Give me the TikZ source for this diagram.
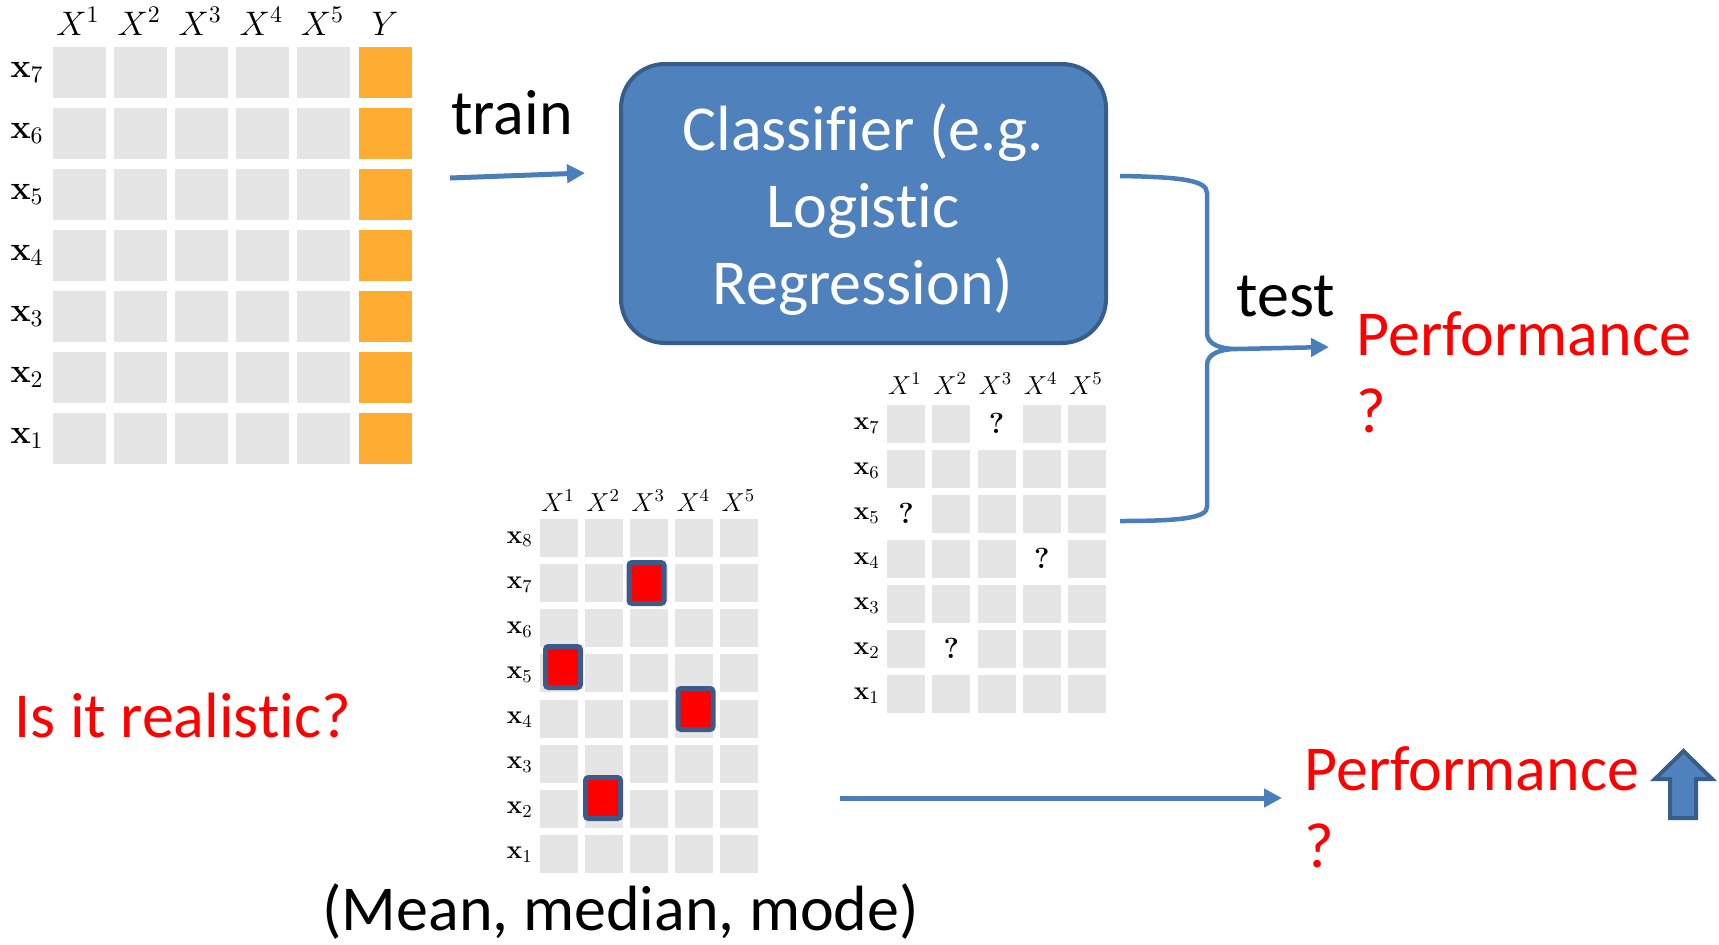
\RequirePackage{fix-cm}
\documentclass[tikz,border=0pt]{standalone}
\usepackage[no-math]{fontspec}
\setmainfont{Carlito}[Ligatures={NoCommon,NoContextual,NoRequired}, Contextuals=NoAlternate]
\usetikzlibrary{arrows.meta}
\definecolor{cellgray}{HTML}{E5E5E5}
\definecolor{ygold}{HTML}{FFAC33}
\definecolor{boxfill}{HTML}{4F81BD}
\definecolor{boxline}{HTML}{385D8A}
\definecolor{arrowblue}{HTML}{4A7EBB}
\definecolor{redbord}{HTML}{3C5A8A}
\newcommand\slidefont{\fontsize{32}{38.5}\selectfont}
\newcommand\bfq{{\usefont{OT1}{cmr}{bx}{n}?}}
\tikzset{
  cellA/.style={fill=cellgray, minimum width=26.5pt, minimum height=25.5pt, inner sep=0, draw=none},
  cellY/.style={cellA, fill=ygold},
  cellB/.style={fill=cellgray, minimum width=19pt, minimum height=19pt, inner sep=0, draw=none},
  redbox/.style={fill=red, draw=redbord, line width=2.5pt, rounded corners=1.5pt, minimum width=17.5pt, minimum height=20.5pt, inner sep=0},
  lblA/.style={inner sep=0, font=\fontsize{17}{20}\selectfont},
  lblB/.style={inner sep=0, font=\fontsize{13}{16}\selectfont},
  conn/.style={draw=arrowblue, line width=2.5pt, -{Triangle[length=9pt,width=9pt]}},
  bracepath/.style={draw=arrowblue, line width=2.25pt},
  slide/.style={inner sep=0, font=\slidefont},
  clfbox/.style={fill=boxfill, draw=boxline, line width=2pt, rounded corners=22pt, minimum width=242.5pt, minimum height=139.5pt, inner sep=0},
  uparrow/.style={fill=boxfill, draw=boxline, line width=2pt, line join=miter}
}
\begin{document}
\begin{tikzpicture}[x=0.5pt,y=-0.5pt]
\useasboundingbox (0,0) rectangle (1719,944);

% ---------- training table ----------
\foreach \r in {0,...,6}{
  \pgfmathtruncatemacro\sub{7-\r}
  \node[lblA, anchor=base east] (la-\r) at (44,{72.5+61.08*\r+4.5}) {$\mathbf{x}_{\sub}$};
  \foreach \c in {1,...,5}{
    \node[cellA] (a-\r-\c) at ({79.5+61.1*(\c-1)},{72.5+61.08*\r}) {};
  }
  \node[cellY] (a-\r-6) at (385,{72.5+61.08*\r}) {};
}
\foreach \c in {1,...,5}{
  \node[lblA, anchor=base] (ha-\c) at ({78+61.1*(\c-1)},35) {$X^{\c}$};
}
\node[lblA, anchor=base] (ha-6) at (385,35) {$Y$};

% ---------- imputed table ----------
\foreach \r in {0,...,7}{
  \pgfmathtruncatemacro\sub{8-\r}
  \node[lblB, anchor=base east] (lm-\r) at (533,{538+45.14*\r+5}) {$\mathbf{x}_{\sub}$};
  \foreach \c in {1,...,5}{
    \node[cellB] (m-\r-\c) at ({559+45.1*(\c-1)},{538+45.14*\r}) {};
  }
}
\foreach \c in {1,...,5}{
  \node[lblB, anchor=base] (hm-\c) at ({558+45.1*(\c-1)},511) {$X^{\c}$};
}
\node[redbox] (red1) at (646.5,583) {};
\node[redbox] (red2) at (563,667) {};
\node[redbox] (red3) at (695.5,709) {};
\node[redbox] (red4) at (603,798) {};

% ---------- test table with missing values ----------
\foreach \r in {0,...,6}{
  \pgfmathtruncatemacro\sub{7-\r}
  \node[lblB, anchor=base east] (lt-\r) at (880,{424+45.08*\r+5.5}) {$\mathbf{x}_{\sub}$};
  \foreach \c in {1,...,5}{
    \pgfmathtruncatemacro\miss{(\r==0 && \c==3) || (\r==2 && \c==1) || (\r==3 && \c==4) || (\r==5 && \c==2)}
    \ifnum\miss=0
      \node[cellB] (t-\r-\c) at ({906+45.25*(\c-1)},{424+45.08*\r}) {};
    \fi
  }
}
\foreach \c in {1,...,5}{
  \node[lblB, anchor=base] (ht-\c) at ({905+45.25*(\c-1)},394) {$X^{\c}$};
}
\foreach \r/\c in {0/3,2/1,3/4,5/2}{
  \node[lblB, anchor=base, font=\fontsize{14.5}{16}\selectfont] (q-\r-\c) at ({906+45.25*(\c-1)},{424+45.08*\r+9}) {\bfq};
}

% ---------- classifier ----------
\node[clfbox] (clf) at (863.5,203.5) {};
\node[slide, text=white, align=center] (clftext) at (863,210) {Classifier (e.g.\\Logistic\\Regression)};

% ---------- train arrow ----------
\node[slide, anchor=base west] (train) at (451,134) {train};
\coordinate (trs) at (450,178);
\coordinate (tre) at (585,173);
\draw[conn] (trs) -- (tre);

% ---------- test brace ----------
\coordinate (bA) at (1120,176);
\coordinate (bB) at (1120,521);
\coordinate (bt) at (1236,349);
\coordinate (pt) at (1329,347);
\draw[bracepath] (bA) .. controls (1180,177) and (1207,180) .. (1207,193) -- (1207,333)
   .. controls (1207,345) and (1222,349) .. (bt)
   .. controls (1222,349) and (1207,353) .. (1207,365) -- (1207,507)
   .. controls (1207,518) and (1180,521) .. (bB);
\draw[conn, line width=2.25pt] (bt) -- (pt);
\node[slide, anchor=base west] (test) at (1236,316) {test};
\node[slide, text=red, anchor=base west, align=left] (perf1) at (1356,432) {Performance\\?};

% ---------- bottom ----------
\node[slide, text=red, anchor=base west] (real) at (14,737) {Is it realistic?};
\node[slide, anchor=base west] (mmm) at (322,930) {(Mean, median, mode)};
\coordinate (bs) at (840,798);
\coordinate (be) at (1282,798);
\draw[conn] (bs) -- (be);
\node[slide, text=red, anchor=base west, align=left] (perf2) at (1304,867) {Performance\\?};
\draw[uparrow] (1683.5,751) -- (1712,779) -- (1696,779) -- (1696,818) -- (1670,818) -- (1670,779) -- (1655,779) -- cycle;
\end{tikzpicture}
\end{document}
